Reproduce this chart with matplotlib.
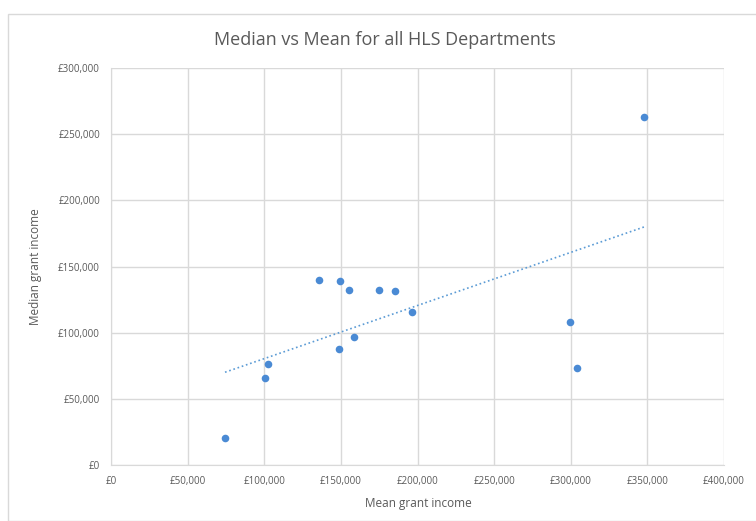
import matplotlib
matplotlib.use("Agg")
import matplotlib.pyplot as plt
import numpy as np
from matplotlib.patches import Rectangle
from matplotlib.ticker import FuncFormatter, MultipleLocator

mean_income = [74400, 100500, 102500, 135800, 149500, 155300, 148800, 158600,
               175000, 185400, 196500, 299600, 304000, 348000]
median_income = [20400, 65700, 76300, 139700, 139000, 132000, 87600, 96700,
                 132000, 131400, 115600, 108000, 73300, 262800]

title = "Median vs Mean for all HLS Departments"
xlabel = "Mean grant income"
ylabel = "Median grant income"

plt.rcParams['font.family'] = ['Open Sans', 'DejaVu Sans']
txt = '#595959'

fig = plt.figure(figsize=(7.56, 5.21), dpi=100)
fig.patches.append(Rectangle((8/756, 0), 1, 1 - 14/521, transform=fig.transFigure,
                             fill=False, edgecolor='#d9d9d9', linewidth=1))
ax = fig.add_axes([111/756, 1 - 465/521, (724 - 111)/756, (465 - 68)/521])

ax.set_xlim(0, 400000)
ax.set_ylim(0, 300000)
ax.xaxis.set_major_locator(MultipleLocator(50000))
ax.yaxis.set_major_locator(MultipleLocator(50000))
fmt = FuncFormatter(lambda v, p: "£{:,.0f}".format(v))
ax.xaxis.set_major_formatter(fmt)
ax.yaxis.set_major_formatter(fmt)
ax.grid(True, color='#d9d9d9', linewidth=1)
ax.set_axisbelow(True)
for s in ['top', 'right']:
    ax.spines[s].set_visible(False)
for s in ['left', 'bottom']:
    ax.spines[s].set_color('#d9d9d9')
ax.tick_params(length=0, labelsize=7, colors=txt, pad=8)

ax.scatter(mean_income, median_income, s=30, color='#4a8ad4', zorder=3, linewidths=0)

x = np.array(mean_income)
y = np.array(median_income)
m, b = np.polyfit(x, y, 1)
xs = np.array([x.min(), x.max()])
ax.plot(xs, m * xs + b, linestyle=':', color='#5b9bd5', linewidth=1.2, zorder=2)

fig.text(385/756, 1 - 40/521, title, ha='center', va='center', fontsize=13, color=txt)
fig.text(418/756, 1 - 503/521, xlabel, ha='center', va='center', fontsize=8.5, color=txt)
fig.text(35/756, 1 - 267/521, ylabel, ha='center', va='center', fontsize=8.5, color=txt, rotation=90)

fig.savefig("out.png", dpi=100)
